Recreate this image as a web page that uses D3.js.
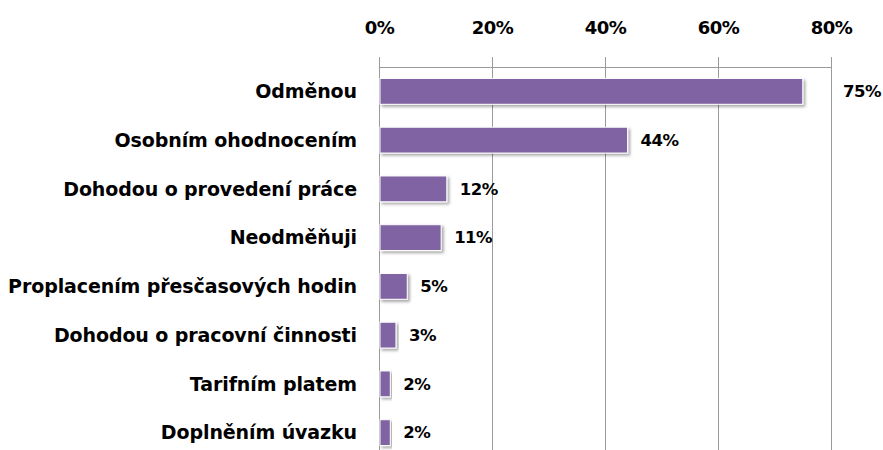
<!DOCTYPE html>
<html>
<head>
<meta charset="utf-8">
<script src="https://cdn.jsdelivr.net/npm/d3@7"></script>
<style>
  body { margin: 0; background: #fff; }
  text { font-family: "DejaVu Sans", sans-serif; font-weight: bold; fill: #000; }
</style>
</head>
<body>
<div id="chart"></div>
<script>
// categories and values (percent)
const categories = [
  'Odměnou',
  'Osobním ohodnocením',
  'Dohodou o provedení práce',
  'Neodměňuji',
  'Proplacením přesčasových hodin',
  'Dohodou o pracovní činnosti',
  'Tarifním platem',
  'Doplněním úvazku'
]
const values = [75, 44, 12, 11, 5, 3, 2, 2]
const ticks = [0, 20, 40, 60, 80]

const width = 883, height = 450
const margin = {top: 67, left: 379, right: 52, bottom: -7}

let svg = d3.select('#chart')
  .append('svg')
  .attr('width', width)
  .attr('height', height)

let defs = svg.append('defs')
let filter = defs.append('filter').attr('id', 'shadow')
  .attr('x', '-5%').attr('y', '-20%').attr('width', '120%').attr('height', '160%')
filter.append('feDropShadow')
  .attr('dx', 2).attr('dy', 2).attr('stdDeviation', 1.5)
  .attr('flood-color', '#000').attr('flood-opacity', 0.35)

let x = d3.scaleLinear().domain([0, 80]).range([margin.left, width - margin.right])
let y = d3.scaleBand().domain(categories).range([margin.top, height - margin.bottom]).paddingInner(0.47).paddingOuter(0.235)

// grid lines
svg.append('g')
  .selectAll('line')
  .data(ticks)
  .enter().append('line')
  .attr('x1', d => x(d)).attr('x2', d => x(d))
  .attr('y1', margin.top - 10).attr('y2', height)
  .attr('stroke', '#9a9a9a')
  .attr('stroke-width', 1)
  .attr('shape-rendering', 'crispEdges')

// top axis
let axis = svg.append('g')
  .attr('transform', 'translate(0,' + margin.top + ')')
  .call(d3.axisTop(x).tickValues(ticks).tickSize(10).tickFormat(d => d + '%'))
axis.select('.domain').attr('stroke', '#9a9a9a').attr('shape-rendering', 'crispEdges')
axis.selectAll('.tick line').attr('stroke', '#9a9a9a')
axis.selectAll('.tick text')
  .attr('y', -39)
  .attr('dy', '0.35em')
  .style('font-size', '18px')
  .style('letter-spacing', '-0.6px')

// bars
svg.append('g')
  .selectAll('rect')
  .data(values)
  .enter().append('rect')
  .attr('x', x(0) + 1)
  .attr('y', (d, i) => y(categories[i]))
  .attr('width', d => x(d) - x(0) - 1)
  .attr('height', y.bandwidth())
  .attr('fill', '#8064a2')
  .attr('stroke', '#fff')
  .attr('stroke-width', 1)
  .attr('filter', 'url(#shadow)')

// category labels
svg.append('g')
  .selectAll('text')
  .data(categories)
  .enter().append('text')
  .attr('x', margin.left - 22)
  .attr('y', d => y(d) + y.bandwidth() / 2)
  .attr('dy', '0.35em')
  .attr('text-anchor', 'end')
  .style('font-size', '19px')
  .style('letter-spacing', '-0.1px')
  .text(d => d)

// value labels
svg.append('g')
  .selectAll('text')
  .data(values)
  .enter().append('text')
  .attr('x', d => x(d) + 40 > x(80) ? x(80) + 12 : x(d) + 13)
  .attr('y', (d, i) => y(categories[i]) + y.bandwidth() / 2)
  .attr('dy', '0.35em')
  .style('font-size', '16.5px')
  .style('letter-spacing', '-0.5px')
  .text(d => d + '%')
</script>
</body>
</html>
